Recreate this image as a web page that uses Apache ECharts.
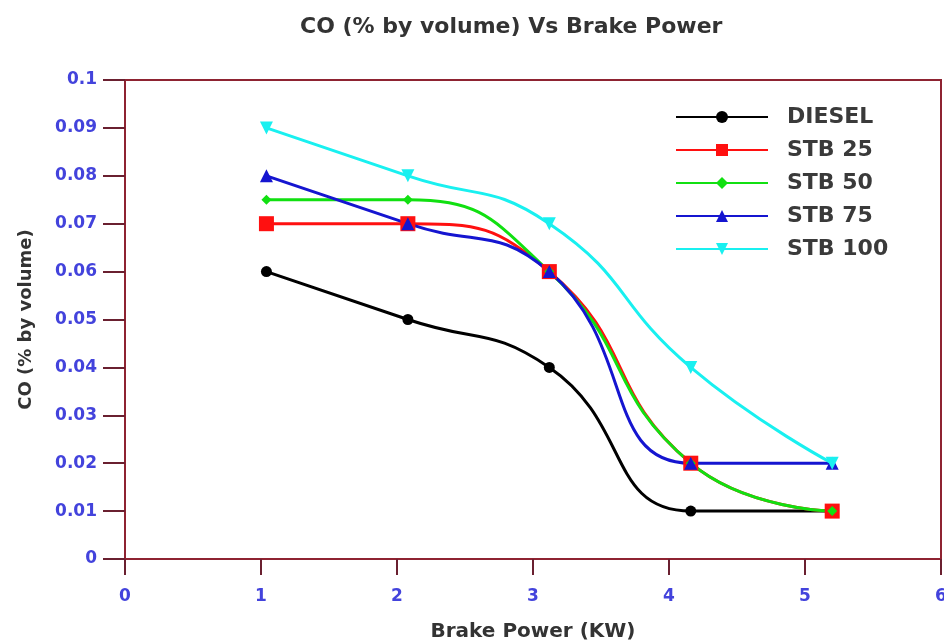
<!DOCTYPE html>
<html>
<head>
<meta charset="utf-8">
<script src="https://cdn.jsdelivr.net/npm/echarts@6/dist/echarts.min.js"></script>
<style>
  html, body { margin: 0; padding: 0; background: #fff; }
  #chart { width: 944px; height: 640px; }
</style>
</head>
<body>
<div id="chart"></div>
<script>
// brake power (KW) at each load step
var brakePower = [1.04, 2.08, 3.12, 4.16, 5.2];

var diesel = [0.06, 0.05, 0.04, 0.01, 0.01];
var stb25 = [0.07, 0.07, 0.06, 0.02, 0.01];
var stb50 = [0.075, 0.075, 0.06, 0.02, 0.01];
var stb75 = [0.08, 0.07, 0.06, 0.02, 0.02];
var stb100 = [0.09, 0.08, 0.07, 0.04, 0.02];

function pairs(ys) {
  return brakePower.map(function (x, i) { return [x, ys[i]]; });
}

function line(name, ys, color, symbol, size, rotate) {
  return {
    name: name,
    type: 'line',
    data: pairs(ys),
    smooth: 0.5,
    symbol: symbol,
    symbolSize: size,
    symbolRotate: rotate || 0,
    lineStyle: { color: color, width: 3 },
    itemStyle: { color: color }
  };
}

var axisRed = '#8e2331';
var tickBlue = '#4343dc';
var font = 'DejaVu Sans';

var chart = echarts.init(document.getElementById('chart'));
chart.setOption({
  animation: false,
  backgroundColor: '#fff',
  title: {
    text: 'CO (% by volume) Vs Brake Power',
    left: 295,
    top: 11,
    textStyle: { fontFamily: font, fontSize: 22, fontWeight: 'bold', color: '#333' }
  },
  grid: {
    left: 125, right: 3, top: 80, bottom: 81,
    outerBoundsMode: 'none',
    show: true, borderColor: axisRed, borderWidth: 2
  },
  legend: {
    orient: 'vertical',
    left: 675,
    top: 106,
    padding: 0,
    itemWidth: 92,
    itemHeight: 15,
    itemGap: 11,
    textStyle: { fontFamily: font, fontSize: 22, fontWeight: 'bold', lineHeight: 22, color: '#3a3a3a', padding: [0, 0, 0, 14] }
  },
  xAxis: {
    type: 'value',
    min: 0,
    max: 6,
    interval: 1,
    name: 'Brake Power (KW)',
    nameLocation: 'middle',
    nameGap: 63,
    nameTextStyle: { fontFamily: font, fontSize: 20, fontWeight: 'bold', color: '#333' },
    axisLine: { onZero: false, lineStyle: { color: axisRed, width: 2 } },
    axisTick: { length: 16, lineStyle: { color: '#6a2030', width: 2 } },
    axisLabel: { margin: 29, fontFamily: font, fontSize: 17, fontWeight: 'bold', color: tickBlue },
    splitLine: { show: false }
  },
  yAxis: {
    type: 'value',
    min: 0,
    max: 0.1,
    interval: 0.01,
    name: 'CO (% by volume)',
    nameLocation: 'middle',
    nameGap: 90,
    nameRotate: 90,
    nameTextStyle: { fontFamily: font, fontSize: 18, fontWeight: 'bold', color: '#333' },
    axisLine: { show: true, onZero: false, lineStyle: { color: axisRed, width: 2 } },
    axisTick: { show: true, length: 22, lineStyle: { color: '#6a2030', width: 2 } },
    axisLabel: {
      margin: 28,
      fontFamily: font,
      fontSize: 17,
      fontWeight: 'bold',
      color: tickBlue,
      formatter: function (v) { return +v.toFixed(3) + ''; }
    },
    splitLine: { show: false }
  },
  series: [
    line('DIESEL', diesel, '#000000', 'circle', 11),
    line('STB 25', stb25, '#ff1010', 'rect', 15),
    line('STB 50', stb50, '#11e011', 'diamond', 10),
    line('STB 75', stb75, '#1515d0', 'triangle', 13),
    line('STB 100', stb100, '#19f0f0', 'triangle', 13, 180)
  ]
});
</script>
</body>
</html>
